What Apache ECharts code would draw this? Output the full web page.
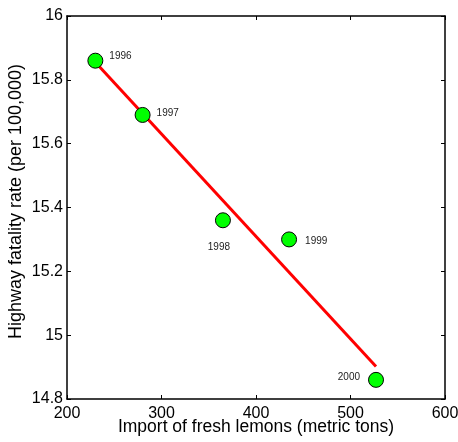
<!DOCTYPE html>
<html><head><meta charset="utf-8">
<script src="https://cdn.jsdelivr.net/npm/echarts@6/dist/echarts.min.js"></script>
<style>html,body{margin:0;padding:0;background:#fff}#c{width:458px;height:442px}</style>
</head><body><div id="c"></div>
<script>
const years = ['1996','1997','1998','1999','2000'];
const lemons = [230, 280, 365, 435, 527];
const fatality = [15.86, 15.69, 15.36, 15.30, 14.86];
const fitX = [230, 527];
const fitY = [15.855, 14.902];
const xTicks = [200, 300, 400, 500, 600];
const yTicks = [14.8, 15, 15.2, 15.4, 15.6, 15.8, 16];

const labelPlace = [
  {position: 'right', offset: [1, -4]},
  {position: 'right', offset: [1, -2]},
  {position: 'bottom', offset: [-4, 9]},
  {position: 'right', offset: [3, 2]},
  {position: 'left', offset: [-3, -3]}
];

const chart = echarts.init(document.getElementById('c'), null, {renderer: 'canvas'});
const font = 'Liberation Sans, Arial, sans-serif';
const axisLine = {show: true, lineStyle: {color: '#000', width: 1.5}};
const tick = {show: true, inside: true, length: 4, lineStyle: {color: '#000', width: 1}};
chart.setOption({
  animation: false,
  grid: {left: 67, right: 13, top: 16, bottom: 43, containLabel: false, outerBoundsMode: 'none'},
  xAxis: [{
    type: 'value', min: 200, max: 600, interval: 100, position: 'bottom',
    axisLine, axisTick: tick, splitLine: {show: false},
    axisLabel: {color: '#000', fontSize: 16, fontFamily: font, margin: 7,
      formatter: v => xTicks.includes(v) ? String(v) : ''},
    name: 'Import of fresh lemons (metric tons)', nameLocation: 'middle', nameGap: 19,
    nameMoveOverlap: false,
    nameTextStyle: {color: '#000', fontSize: 17.5, fontFamily: font}
  }, {
    type: 'value', min: 200, max: 600, interval: 100, position: 'top',
    axisLine, axisTick: tick, axisLabel: {show: false}, splitLine: {show: false}
  }],
  yAxis: [{
    type: 'value', min: 14.8, max: 16, interval: 0.2, position: 'left',
    axisLine, axisTick: tick, splitLine: {show: false},
    axisLabel: {color: '#000', fontSize: 16, fontFamily: font, margin: 4,
      formatter: v => { const t = yTicks.find(y => Math.abs(y - v) < 1e-6); return t === undefined ? '' : String(t); }},
    name: 'Highway fatality rate (per 100,000)', nameLocation: 'middle', nameGap: 42,
    nameMoveOverlap: false,
    nameTextStyle: {color: '#000', fontSize: 18, fontFamily: font, padding: [0, 0, 0, 12]}
  }, {
    type: 'value', min: 14.8, max: 16, interval: 0.2, position: 'right',
    axisLine, axisTick: tick, axisLabel: {show: false}, splitLine: {show: false}
  }],
  series: [{
    type: 'line',
    data: fitX.map((x, i) => [x, fitY[i]]),
    showSymbol: false, symbol: 'none',
    lineStyle: {color: '#ff0000', width: 3},
    z: 2
  }, {
    type: 'scatter',
    data: lemons.map((x, i) => ({
      value: [x, fatality[i]],
      label: {show: true, formatter: years[i], position: labelPlace[i].position,
        offset: labelPlace[i].offset, fontSize: 10, color: '#222', fontFamily: font}
    })),
    symbol: 'circle', symbolSize: 15,
    itemStyle: {color: '#00ff00', borderColor: '#000', borderWidth: 1, opacity: 1},
    z: 3
  }]
});
</script>
</body></html>
